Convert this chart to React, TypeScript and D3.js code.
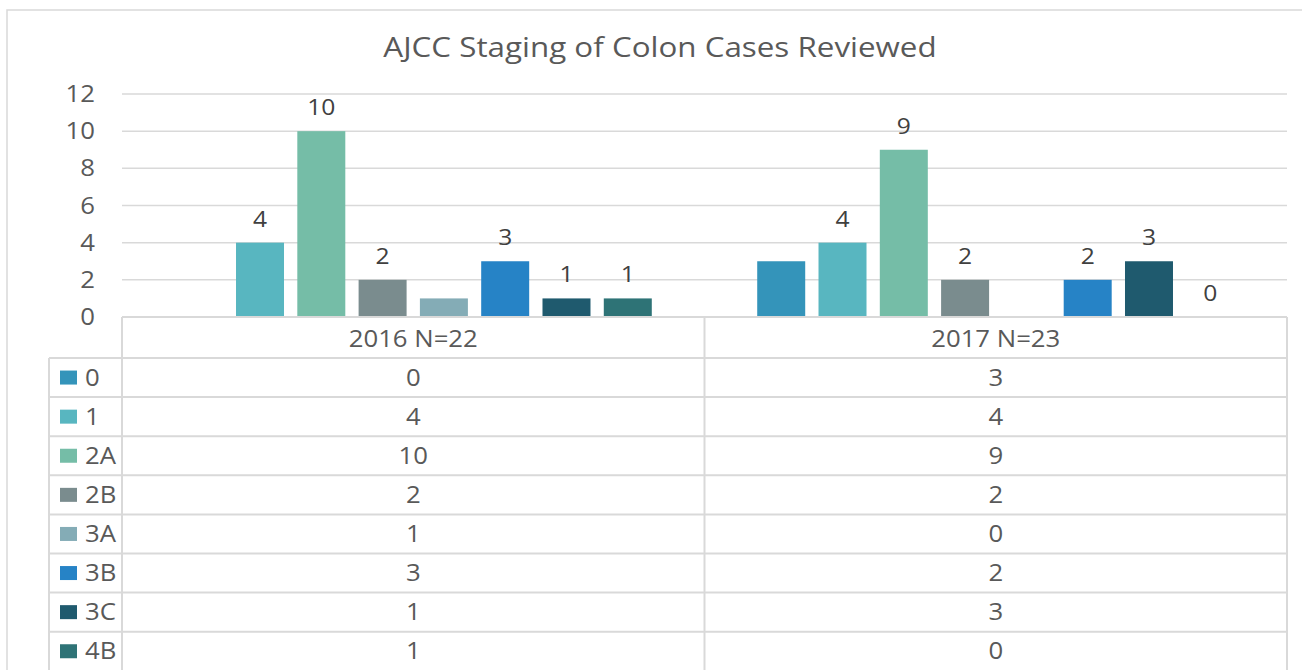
import React from 'react';
import * as d3 from 'd3';

// chart data
const categories = ['2016 N=22', '2017 N=23'];
const stages = ['0', '1', '2A', '2B', '3A', '3B', '3C', '4B'];
const values2016 = [0, 4, 10, 2, 1, 3, 1, 1];
const values2017 = [3, 4, 9, 2, 0, 2, 3, 0];
// data labels that were left on the bars (some were removed in the original)
const showLabel2016 = [false, true, true, true, false, true, true, true];
const showLabel2017 = [false, true, true, true, false, true, true, true];
const stageColors = ['#3494ba', '#58b6c0', '#75bda7', '#7a8c8e', '#84acb6', '#2683c6', '#1f5a6e', '#2e7376'];
const yTicks = [0, 2, 4, 6, 8, 10, 12];

const W = 1302;
const H = 670;
const font = '"Open Sans", "DejaVu Sans", sans-serif';
const textColor = '#595959';
const lineColor = '#d9d9d9';
const stretch = 1.12; // the original text is a bit wide

const T = ({ x, y, size, anchor = 'start', fill = textColor, children }: any) => (
  <text
    transform={`translate(${x},${y}) scale(${stretch},1)`}
    textAnchor={anchor}
    fontFamily={font}
    fontSize={size}
    fill={fill}
  >
    {children}
  </text>
);

const App = () => {
  const series = [values2016, values2017];
  const labels = [showLabel2016, showLabel2017];

  // plot area
  const plotLeft = 122;
  const plotRight = 1287;
  const plotTop = 94;
  const plotBottom = 317;

  const x = d3.scaleBand().domain(categories).range([plotLeft, plotRight]).padding(0);
  const xs = d3.scaleBand().domain(stages).range([0, x.bandwidth()]).paddingInner(0.217).paddingOuter(0.86);
  const y = d3.scaleLinear().domain([0, 12]).range([plotBottom, plotTop]);

  // table
  const headerBottom = 358;
  const rowH = 39.1;
  const legendLeft = 49;
  const rowY = d3.scaleBand().domain(stages).range([headerBottom, headerBottom + rowH * stages.length]);

  return (
    <div style={{ position: 'fixed', left: 0, top: 0, width: W, height: H, background: '#fff' }}>
      <svg width={W} height={H} style={{ display: 'block' }}>
        <rect x={7} y={10} width={W + 20} height={H + 20} fill="#fff" stroke={lineColor} strokeWidth={1.5} />

        <T x={660} y={57} size={28} anchor="middle">AJCC Staging of Colon Cases Reviewed</T>

        {/* gridlines and y ticks */}
        {yTicks.map(t => (
          <g key={t}>
            {t > 0 && (
              <line x1={plotLeft} x2={plotRight} y1={y(t)} y2={y(t)} stroke={lineColor} strokeWidth={1.5} />
            )}
            <T x={95} y={y(t) + 8} size={23} anchor="end">{t}</T>
          </g>
        ))}

        {/* bars */}
        {categories.map((c, ci) => (
          <g key={c} transform={`translate(${x(c)},0)`}>
            {stages.map((s, si) => {
              const v = series[ci][si];
              const bx = xs(s) as number;
              return (
                <g key={s}>
                  {v > 0 && (
                    <rect x={bx} y={y(v)} width={xs.bandwidth()} height={y(0) - y(v)} fill={stageColors[si]} />
                  )}
                  {labels[ci][si] && (
                    <T x={bx + xs.bandwidth() / 2} y={y(v) - 16} size={22} anchor="middle" fill="#404040">{v}</T>
                  )}
                </g>
              );
            })}
          </g>
        ))}

        {/* data table */}
        <line x1={plotLeft} x2={plotRight} y1={plotBottom} y2={plotBottom} stroke={lineColor} strokeWidth={2} />
        {categories.map(c => (
          <T key={c} x={(x(c) as number) + x.bandwidth() / 2} y={347} size={23} anchor="middle">{c}</T>
        ))}
        {stages.map((s, si) => {
          const ry = rowY(s) as number;
          return (
            <g key={s}>
              <line x1={legendLeft} x2={plotRight} y1={ry} y2={ry} stroke={lineColor} strokeWidth={2} />
              <rect x={60} y={ry + rowH / 2 - 7} width={17} height={14} fill={stageColors[si]} />
              <T x={85} y={ry + rowH / 2 + 8} size={23}>{s}</T>
              {categories.map((c, ci) => (
                <T key={c} x={(x(c) as number) + x.bandwidth() / 2} y={ry + rowH / 2 + 8} size={23} anchor="middle">
                  {series[ci][si]}
                </T>
              ))}
            </g>
          );
        })}
        <line x1={legendLeft} x2={legendLeft} y1={headerBottom} y2={H} stroke={lineColor} strokeWidth={2} />
        {[plotLeft, plotLeft + x.bandwidth(), plotRight].map((vx, i) => (
          <line key={i} x1={vx} x2={vx} y1={plotBottom} y2={H} stroke={lineColor} strokeWidth={2} />
        ))}
      </svg>
    </div>
  );
};

export default App;
